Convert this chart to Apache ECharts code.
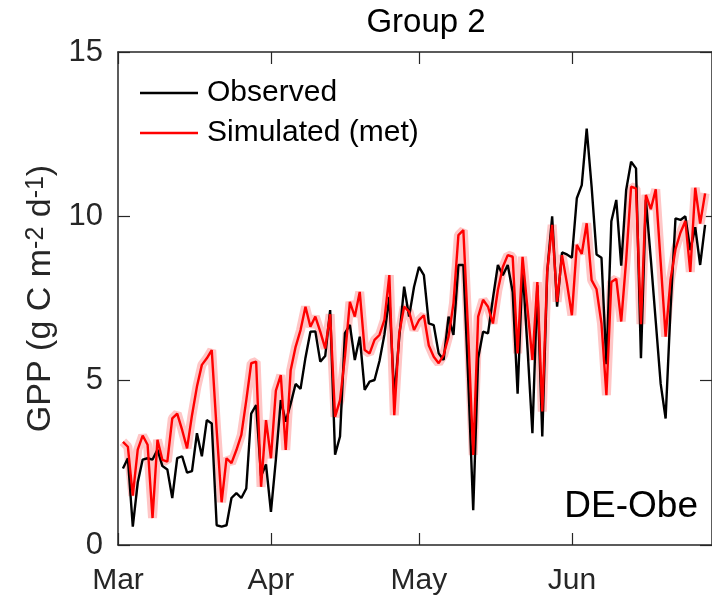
<!DOCTYPE html>
<html>
<head>
<meta charset="utf-8">
<script src="https://cdn.jsdelivr.net/npm/echarts@6/dist/echarts.min.js"></script>
<style>
  html, body { margin: 0; padding: 0; background: #fff; }
  #chart { width: 712px; height: 600px; }
</style>
</head>
<body>
<div id="chart"></div>
<script>
// day offsets from Mar 1 where the month ticks sit
var monthStarts = [0, 31, 61, 92];
var monthNames = ["Mar", "Apr", "May", "Jun"];
var yTicks = [0, 5, 10, 15];

// daily GPP, first value is day 1 after Mar 1
var observed = [
  2.33, 2.64, 0.56, 1.9, 2.6, 2.64, 2.6, 2.9, 2.4, 2.3,
  1.43, 2.64, 2.7, 2.2, 2.25, 3.4, 2.7, 3.8, 3.7, 0.6,
  0.56, 0.6, 1.43, 1.58, 1.43, 1.72, 4.0, 4.26, 2.1, 2.45,
  1.01, 2.6, 4.41, 3.75, 4.3, 4.9, 4.75, 5.7, 6.49, 6.5,
  5.58, 5.75, 7.15, 2.75, 3.3, 6.45, 6.7, 5.63, 6.34, 4.72,
  4.97, 5.02, 5.6, 6.4, 7.55, 4.5, 6.3, 7.86, 6.95, 7.85,
  8.46, 8.21, 6.74, 6.69, 5.83, 5.63, 6.95, 6.39, 8.52, 8.52,
  5.0, 1.06, 5.68, 6.49, 6.44, 7.51, 8.52, 8.21, 8.52, 7.7,
  4.6, 8.45, 6.0, 3.4, 7.9, 3.3, 8.3, 10.0, 7.25, 8.9,
  8.84, 8.74, 10.55, 10.95, 12.67, 10.9, 8.84, 8.74, 5.5, 9.85,
  10.5, 8.5, 10.8, 11.66, 11.46, 5.68, 10.5, 8.7, 6.8, 4.9,
  3.85, 7.2, 9.94, 9.89, 10.0, 8.97, 9.67, 8.52, 9.74
];
var simulated = [
  3.14, 2.99, 1.5, 2.9, 3.33, 3.05, 0.82, 3.2, 2.59, 2.54,
  3.85, 4.0, 3.5, 2.94, 3.95, 4.82, 5.48, 5.68, 5.93, 3.5,
  1.3, 2.64, 2.49, 2.89, 3.35, 4.4, 5.53, 5.58, 1.77, 3.8,
  2.64, 4.7, 5.17, 2.89, 5.32, 6.03, 6.54, 7.25, 6.64, 6.95,
  6.49, 5.98, 7.02, 3.9, 4.41, 5.73, 7.4, 6.95, 7.7, 5.93,
  5.83, 6.24, 6.39, 6.85, 8.21, 3.95, 6.44, 7.25, 7.1, 6.54,
  6.84, 6.99, 6.07, 5.73, 5.53, 5.78, 6.34, 7.36, 9.43, 9.58,
  6.4, 2.74, 6.95, 7.46, 7.25, 6.74, 7.76, 8.46, 8.82, 8.77,
  5.83, 8.77, 7.2, 5.63, 8.0, 4.06, 8.32, 9.74, 7.4, 8.82,
  7.96, 6.99, 9.13, 8.86, 9.79, 8.06, 7.78, 6.74, 4.56, 8.0,
  8.1, 6.8, 8.67, 10.9, 10.85, 6.72, 10.65, 10.22, 10.82, 8.6,
  6.34, 8.08, 9.0, 9.5, 9.86, 8.31, 10.87, 9.78, 10.7
];

function pairs(arr) {
  return arr.map(function (v, i) { return [i + 1, v]; });
}

var font = "Liberation Sans, Arial, sans-serif";
var axisColor = "#262626";

var myChart = echarts.init(document.getElementById("chart"));

var xBase = {
  type: "value",
  min: 0,
  max: 120.4,
  axisLine: { show: true, onZero: false, lineStyle: { color: axisColor, width: 1.5 } },
  axisTick: { show: true, inside: true, length: 12, customValues: monthStarts,
    lineStyle: { color: axisColor, width: 1.2 } },
  splitLine: { show: false }
};
var yBase = {
  type: "value",
  min: 0,
  max: 15,
  interval: 5,
  axisLine: { show: true, onZero: false, lineStyle: { color: axisColor, width: 1.5 } },
  axisTick: { show: true, inside: true, length: 12, customValues: yTicks,
    lineStyle: { color: axisColor, width: 1.2 } },
  splitLine: { show: false }
};

var option = {
  animation: false,
  backgroundColor: "#fff",
  grid: { left: 118, top: 52, right: -8, bottom: 55, containLabel: false },
  legend: {
    data: ["Observed", "Simulated (met)"],
    orient: "vertical",
    left: 140,
    top: 78,
    padding: 0,
    icon: "rect",
    itemWidth: 58,
    itemHeight: 2.5,
    itemGap: 10,
    textStyle: { fontSize: 30, lineHeight: 30, color: "#000", fontFamily: font, padding: [0, 0, 0, 4] }
  },
  xAxis: [
    Object.assign({}, xBase, {
      position: "bottom",
      axisLabel: {
        customValues: monthStarts,
        formatter: function (v) { return monthNames[monthStarts.indexOf(v)]; },
        fontSize: 30, color: axisColor, fontFamily: font, margin: 21
      }
    }),
    Object.assign({}, xBase, { position: "top", axisLabel: { show: false } })
  ],
  yAxis: [
    Object.assign({}, yBase, {
      position: "left",
      axisLabel: { fontSize: 31, color: axisColor, fontFamily: font, margin: 15 },
      name: "{t|GPP (g C m}{s|-2}{t| d}{s|-1}{t|)}",
      nameLocation: "middle",
      nameRotate: 90,
      nameGap: 55,
      nameTextStyle: {
        rich: {
          t: { fontSize: 34, color: axisColor, fontFamily: font },
          s: { fontSize: 25, color: axisColor, fontFamily: font, verticalAlign: "top" }
        }
      }
    }),
    Object.assign({}, yBase, { position: "right", axisLabel: { show: false } })
  ],
  graphic: [
    {
      type: "text", x: 426, y: 23,
      style: { text: "Group 2", fontSize: 33, fontFamily: font, fill: "#000",
        textAlign: "center", textVerticalAlign: "middle" }
    },
    {
      type: "text", x: 698, y: 507,
      style: { text: "DE-Obe", fontSize: 37, fontFamily: font, fill: "#000",
        textAlign: "right", textVerticalAlign: "middle" }
    }
  ],
  series: [
    {
      name: "band",
      type: "line",
      data: pairs(simulated),
      symbol: "none",
      silent: true,
      lineStyle: { color: "#ffc6c6", width: 9 },
      z: 1
    },
    {
      name: "Observed",
      type: "line",
      data: pairs(observed),
      symbol: "none",
      lineStyle: { color: "#000", width: 2.4 },
      itemStyle: { color: "#000" },
      z: 2
    },
    {
      name: "Simulated (met)",
      type: "line",
      data: pairs(simulated),
      symbol: "none",
      lineStyle: { color: "#ff0000", width: 2.4 },
      itemStyle: { color: "#ff0000" },
      z: 3
    }
  ]
};
myChart.setOption(option);
</script>
</body>
</html>
